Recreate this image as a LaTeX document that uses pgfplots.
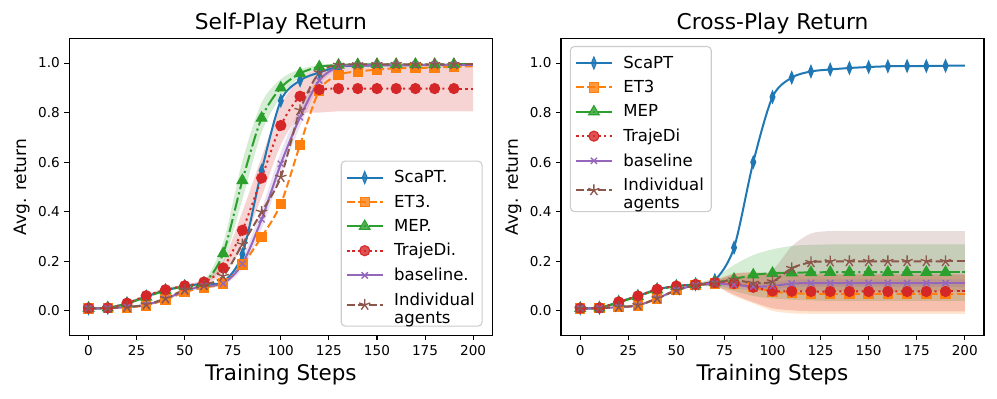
\documentclass[border=0pt]{standalone}
\usepackage{fontspec}
\setmainfont{DejaVu Sans}
\usepackage{pgfplots}
\pgfplotsset{compat=1.18}
\usepackage{pgfplotstable}
\usepgfplotslibrary{fillbetween}

\definecolor{tabblue}{HTML}{1F77B4}
\definecolor{taborange}{HTML}{FF7F0E}
\definecolor{tabgreen}{HTML}{2CA02C}
\definecolor{tabred}{HTML}{D62728}
\definecolor{tabpurple}{HTML}{9467BD}
\definecolor{tabbrown}{HTML}{8C564B}

% self-play: means and bands (lower/upper)
\pgfplotstableread{
x   sc    et    me    tr    ba    in    mel   meu   trl   tru   bal   bau
0   0.010 0.010 0.010 0.011 0.010 0.010 0.008 0.012 0.008 0.014 0.008 0.012
10  0.012 0.011 0.012 0.012 0.011 0.011 0.010 0.014 0.010 0.014 0.009 0.013
20  0.030 0.014 0.029 0.031 0.015 0.015 0.026 0.033 0.027 0.035 0.012 0.018
30  0.058 0.022 0.056 0.061 0.024 0.025 0.052 0.061 0.055 0.067 0.020 0.028
40  0.083 0.045 0.082 0.085 0.048 0.050 0.078 0.087 0.079 0.091 0.043 0.053
50  0.099 0.075 0.099 0.101 0.080 0.085 0.094 0.104 0.095 0.107 0.074 0.086
60  0.110 0.094 0.112 0.116 0.100 0.103 0.104 0.121 0.106 0.126 0.094 0.106
70  0.117 0.110 0.231 0.173 0.110 0.140 0.190 0.275 0.150 0.200 0.103 0.118
80  0.228 0.187 0.526 0.325 0.190 0.268 0.450 0.605 0.260 0.400 0.170 0.215
90  0.566 0.298 0.778 0.536 0.369 0.399 0.720 0.840 0.460 0.620 0.330 0.410
100 0.848 0.432 0.900 0.748 0.593 0.540 0.865 0.935 0.670 0.830 0.550 0.640
110 0.930 0.670 0.958 0.866 0.781 0.810 0.943 0.975 0.790 0.940 0.745 0.820
120 0.962 0.889 0.985 0.893 0.930 0.962 0.978 0.992 0.800 0.975 0.910 0.950
130 0.985 0.952 0.992 0.897 0.985 0.992 0.988 0.996 0.805 0.988 0.978 0.992
140 0.989 0.966 0.994 0.897 0.990 0.994 0.990 0.997 0.805 0.990 0.986 0.994
150 0.990 0.973 0.995 0.897 0.992 0.995 0.992 0.998 0.805 0.990 0.989 0.995
160 0.991 0.979 0.995 0.897 0.993 0.995 0.992 0.998 0.805 0.990 0.990 0.996
170 0.991 0.980 0.995 0.897 0.993 0.995 0.992 0.998 0.805 0.990 0.990 0.996
180 0.992 0.982 0.995 0.897 0.993 0.995 0.992 0.998 0.805 0.990 0.990 0.996
190 0.992 0.985 0.995 0.897 0.993 0.995 0.992 0.998 0.805 0.990 0.990 0.996
200 0.992 0.987 0.995 0.897 0.993 0.995 0.992 0.998 0.805 0.990 0.990 0.996
}\selfplay

% cross-play
\pgfplotstableread{
x   sc    et    me    tr    ba    in    etl    etu   mel   meu   trl    tru   bal   bau   inl   inu
0   0.010 0.010 0.010 0.011 0.010 0.010 0.007  0.013 0.007 0.013 0.008  0.014 0.007 0.013 0.007 0.013
10  0.012 0.011 0.012 0.012 0.011 0.011 0.008  0.014 0.009 0.015 0.009  0.015 0.008 0.014 0.008 0.014
20  0.036 0.015 0.034 0.036 0.015 0.015 0.012  0.018 0.031 0.037 0.033  0.039 0.012 0.018 0.012 0.018
30  0.060 0.022 0.058 0.060 0.022 0.022 0.019  0.025 0.055 0.061 0.057  0.063 0.019 0.025 0.019 0.025
40  0.087 0.050 0.085 0.087 0.050 0.050 0.047  0.053 0.082 0.088 0.084  0.090 0.047 0.053 0.047 0.053
50  0.100 0.083 0.099 0.100 0.083 0.083 0.080  0.086 0.096 0.102 0.097  0.103 0.080 0.086 0.080 0.086
60  0.107 0.103 0.106 0.107 0.103 0.103 0.099  0.107 0.102 0.110 0.103  0.111 0.099 0.107 0.099 0.107
70  0.124 0.110 0.114 0.114 0.110 0.112 0.100  0.120 0.095 0.135 0.100  0.125 0.100 0.120 0.102 0.122
80  0.255 0.108 0.128 0.110 0.105 0.125 0.060  0.150 0.080 0.185 0.065  0.150 0.090 0.120 0.110 0.140
90  0.600 0.095 0.145 0.095 0.098 0.112 0.030  0.155 0.060 0.225 0.035  0.155 0.083 0.113 0.085 0.140
100 0.863 0.078 0.152 0.080 0.100 0.118 0.000  0.150 0.050 0.248 0.010  0.150 0.085 0.115 0.080 0.165
110 0.941 0.071 0.154 0.079 0.110 0.172 -0.010 0.145 0.045 0.262 0.002  0.150 0.095 0.125 0.080 0.260
120 0.966 0.069 0.155 0.078 0.112 0.196 -0.012 0.145 0.042 0.266 -0.002 0.150 0.097 0.127 0.078 0.312
130 0.974 0.068 0.156 0.078 0.112 0.199 -0.012 0.145 0.040 0.268 -0.002 0.150 0.097 0.127 0.078 0.322
140 0.980 0.068 0.156 0.078 0.112 0.200 -0.012 0.145 0.040 0.268 -0.002 0.150 0.097 0.127 0.078 0.322
150 0.984 0.068 0.156 0.078 0.112 0.200 -0.012 0.145 0.040 0.268 -0.002 0.150 0.097 0.127 0.078 0.322
160 0.987 0.068 0.156 0.078 0.112 0.200 -0.012 0.145 0.040 0.268 -0.002 0.150 0.097 0.127 0.078 0.322
170 0.988 0.068 0.156 0.078 0.112 0.200 -0.012 0.145 0.040 0.268 -0.002 0.150 0.097 0.127 0.078 0.322
180 0.988 0.068 0.156 0.078 0.112 0.200 -0.012 0.145 0.040 0.268 -0.002 0.150 0.097 0.127 0.078 0.322
190 0.989 0.068 0.156 0.078 0.112 0.200 -0.012 0.145 0.040 0.268 -0.002 0.150 0.097 0.127 0.078 0.322
200 0.990 0.068 0.156 0.078 0.112 0.200 -0.012 0.145 0.040 0.268 -0.002 0.150 0.097 0.127 0.078 0.322
}\crossplay

\pgfplotsset{
  panel/.style={
    scale only axis, width=317.25pt, height=223pt, anchor=north west,
    xmin=-10, xmax=210, ymin=-0.1, ymax=1.1,
    xtick={0,25,...,200}, ytick={0,0.2,0.4,0.6,0.8,1},
    tick align=outside, tick pos=left, major tick length=3.65pt,
    every tick/.style={black, line width=0.8pt},
    axis line style={line width=0.8pt},
    tick label style={font=\fontsize{10.2}{12}\selectfont},
    /pgf/number format/assume math mode=true,
    yticklabel style={/pgf/number format/.cd, fixed, fixed zerofill, precision=1},
    title style={font=\fontsize{16.3}{19}\selectfont, at={(axis description cs:0.5,1.003)}, anchor=base},
    xlabel style={font=\fontsize{16.1}{19}\selectfont, at={(axis description cs:0.5,-0.1525)}, anchor=base},
    ylabel style={font=\fontsize{12.8}{15}\selectfont, at={(axis description cs:-0.1125,0.5)}, anchor=center},
    xlabel={Training Steps}, ylabel={Avg. return},
    legend cell align=left,
    legend style={font=\fontsize{12.4}{13.5}\selectfont, draw=black!20, line width=0.8pt,
      rounded corners=3pt, fill=white, fill opacity=0.8, text opacity=1,
      inner xsep=3.5pt, inner ysep=5pt, row sep=3.6pt,
      /tikz/every odd column/.append style={column sep=6pt}},
    legend image code/.code={\draw[mark repeat=2,mark phase=2,##1] plot coordinates {(0cm,0cm) (0.47cm,0cm) (0.94cm,0cm)};},
  },
  lsc/.style={tabblue, line width=1.5pt, smooth, mark=diamond*, mark size=4.5pt, mark options={solid, xscale=0.55, line width=0.8pt}},
  let/.style={taborange, line width=1.5pt, smooth, dash pattern=on 5.8pt off 2.5pt, mark=square*, mark size=3.5pt, mark options={solid, line width=0.8pt}},
  lme/.style={tabgreen, line width=1.5pt, smooth, dash pattern=on 10pt off 2.5pt on 1.6pt off 2.5pt, mark=triangle*, mark size=4.6pt, mark options={solid, line width=0.8pt}},
  ltr/.style={tabred, line width=1.5pt, smooth, dash pattern=on 1.6pt off 2.6pt, mark=*, mark size=3.8pt, mark options={solid, line width=0.8pt}},
  lba/.style={tabpurple, line width=1.5pt, smooth, mark=x, mark size=3.3pt, mark options={solid, line width=1pt}},
  lin/.style={tabbrown, line width=1.5pt, smooth, dash pattern=on 5.8pt off 2.5pt, mark=star, mark size=4.4pt, mark options={solid, fill=tabbrown, line width=1pt}},
}

% #1 table, #2 lower col, #3 upper col, #4 colour, #5 unique id
\newcommand{\band}[5]{%
  \addplot[name path=#5l, draw=none, forget plot, smooth] table[x=x,y=#2]{#1};
  \addplot[name path=#5u, draw=none, forget plot, smooth] table[x=x,y=#3]{#1};
  \addplot[fill=#4, fill opacity=0.2, draw=none, forget plot] fill between[of=#5l and #5u];
}
% #1 table, #2 column, #3 style, #4 legend text
\newcommand{\series}[4]{%
  \addplot[#3, restrict x to domain=0:195] table[x=x,y=#2]{#1};
  \addlegendentry{#4}
  \addplot[#3, mark=none, forget plot, restrict x to domain=185:205] table[x=x,y=#2]{#1};
}

\begin{document}
\begin{tikzpicture}
\path (0pt,0pt) rectangle (747.75pt,-299.25pt);

\begin{axis}[panel, at={(52pt,-28.7pt)}, title={Self-Play Return},
  legend style={at={(0.977,0.03)}, anchor=south east}]
\band{\selfplay}{mel}{meu}{tabgreen}{am}
\band{\selfplay}{trl}{tru}{tabred}{at}
\band{\selfplay}{bal}{bau}{tabpurple}{ab}
\series{\selfplay}{sc}{lsc}{ScaPT.}
\series{\selfplay}{et}{let}{ET3.}
\series{\selfplay}{me}{lme}{MEP.}
\series{\selfplay}{tr}{ltr}{TrajeDi.}
\series{\selfplay}{ba}{lba}{baseline.}
\series{\selfplay}{in}{lin}{\begin{tabular}{@{}l@{}}Individual\\agents\end{tabular}}
\end{axis}

\begin{axis}[panel, at={(420.75pt,-28.7pt)}, title={Cross-Play Return},
  legend style={at={(0.021,0.974)}, anchor=north west}]
\band{\crossplay}{etl}{etu}{taborange}{be}
\band{\crossplay}{mel}{meu}{tabgreen}{bm}
\band{\crossplay}{trl}{tru}{tabred}{bt}
\band{\crossplay}{bal}{bau}{tabpurple}{bb}
\band{\crossplay}{inl}{inu}{tabbrown}{bi}
\series{\crossplay}{sc}{lsc}{ScaPT}
\series{\crossplay}{et}{let}{ET3}
\series{\crossplay}{me}{lme}{MEP}
\series{\crossplay}{tr}{ltr}{TrajeDi}
\series{\crossplay}{ba}{lba}{baseline}
\series{\crossplay}{in}{lin}{\begin{tabular}{@{}l@{}}Individual\\agents\end{tabular}}
\end{axis}
\end{tikzpicture}
\end{document}
